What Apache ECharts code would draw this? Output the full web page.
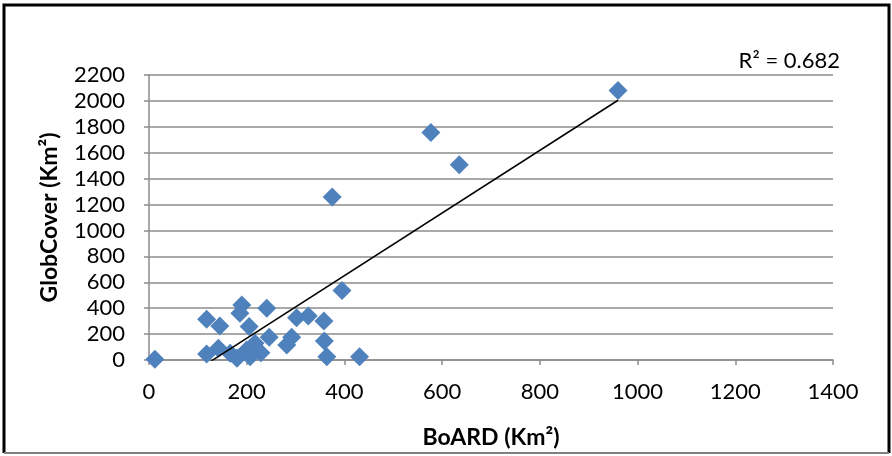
<!DOCTYPE html>
<html>
<head>
<meta charset="utf-8">
<script src="https://cdn.jsdelivr.net/npm/echarts@6/dist/echarts.min.js"></script>
<style>
html,body{margin:0;padding:0;background:#fff;}
#chart{width:892px;height:456px;}
</style>
</head>
<body>
<div id="chart"></div>
<script>
// Data (BoARD km², GlobCover km²)
const boardX = [12, 118, 118, 145, 142, 186, 190, 166, 180, 200, 205, 217, 229, 241, 246, 282, 292, 302, 326, 358, 359, 364, 431, 395, 375, 577, 635, 960, 207];
const globY  = [5, 315, 46, 263, 90, 361, 425, 52, 13, 77, 258, 129, 56, 400, 176, 116, 176, 327, 340, 302, 147, 26, 26, 536, 1258, 1756, 1508, 2080, 25];
const xTicks = [0, 200, 400, 600, 800, 1000, 1200, 1400];
const yTicks = [0, 200, 400, 600, 800, 1000, 1200, 1400, 1600, 1800, 2000, 2200];
const rSquaredText = 'R² = 0.682';
const xTitle = 'BoARD (Km²)';
const yTitle = 'GlobCover (Km²)';

const points = boardX.map((x, i) => [x, globY[i]]);

// least-squares linear trendline from the data
const n = boardX.length;
const mx = boardX.reduce((a, b) => a + b, 0) / n;
const my = globY.reduce((a, b) => a + b, 0) / n;
let sxy = 0, sxx = 0;
for (let i = 0; i < n; i++) { sxy += (boardX[i] - mx) * (globY[i] - my); sxx += (boardX[i] - mx) ** 2; }
const slope = sxy / sxx;
const intercept = my - slope * mx;
const xmin = Math.min(...boardX), xmax = Math.max(...boardX);
const trend = [[xmin, slope * xmin + intercept], [xmax, slope * xmax + intercept]];

const FONT = 'Lato';
const plain = v => String(v);
const chart = echarts.init(document.getElementById('chart'), null, { renderer: 'canvas' });
chart.setOption({
  animation: false,
  backgroundColor: '#fff',
  grid: { left: 149, top: 75, right: 59, bottom: 96, containLabel: false },
  xAxis: {
    type: 'value', min: xTicks[0], max: xTicks[xTicks.length - 1], interval: 200,
    name: xTitle, nameLocation: 'middle', nameGap: 66,
    nameTextStyle: { fontFamily: FONT, fontWeight: 'bold', fontSize: 23, color: '#000' },
    axisLine: { show: true, lineStyle: { color: '#8c8c8c', width: 1.5 } },
    axisTick: { show: true, inside: false, length: 5, lineStyle: { color: '#8c8c8c', width: 1.5 } },
    axisLabel: { fontFamily: FONT, fontSize: 22, color: '#000', margin: 21, formatter: plain },
    splitLine: { show: false }
  },
  yAxis: {
    type: 'value', min: yTicks[0], max: yTicks[yTicks.length - 1], interval: 200,
    name: yTitle, nameLocation: 'middle', nameGap: 88, nameRotate: 90,
    nameTextStyle: { fontFamily: FONT, fontWeight: 'bold', fontSize: 23, color: '#000' },
    axisLine: { show: true, lineStyle: { color: '#8c8c8c', width: 1.5 } },
    axisTick: { show: true, inside: false, length: 5, lineStyle: { color: '#8c8c8c', width: 1.5 } },
    axisLabel: { fontFamily: FONT, fontSize: 22, color: '#000', margin: 24, formatter: plain },
    splitLine: { show: true, lineStyle: { color: '#8c8c8c', width: 1.5 } }
  },
  series: [
    {
      type: 'scatter', data: points, symbol: 'diamond', symbolSize: 19,
      itemStyle: { color: '#4F81BD', opacity: 1 }, z: 3
    },
    {
      type: 'line', data: trend, showSymbol: false, symbol: 'none', clip: true,
      lineStyle: { color: '#000', width: 1.5 }, z: 4
    }
  ],
  graphic: [
    { type: 'text', right: 52, top: 50, style: { text: rSquaredText, fontFamily: FONT, fontSize: 22, fill: '#000' } },
    { type: 'polyline', shape: { points: [[4, 453], [4, 5], [889, 5], [889, 453]] }, style: { stroke: '#000', lineWidth: 3, fill: null } },
    { type: 'line', shape: { x1: 4, y1: 453, x2: 889, y2: 453 }, style: { stroke: '#808080', lineWidth: 2 } }
  ]
});
</script>
</body>
</html>
